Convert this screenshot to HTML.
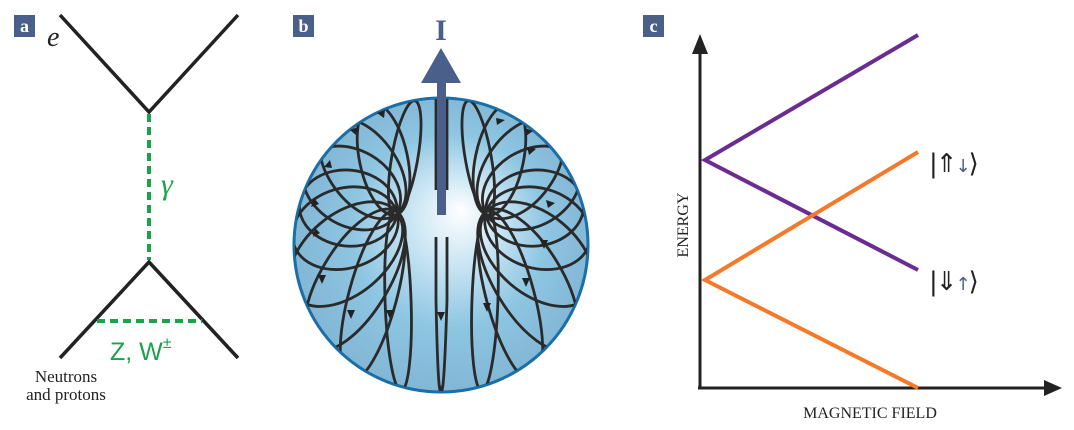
<!DOCTYPE html>
<html><head><meta charset="utf-8"><style>
html,body{margin:0;padding:0;background:#fff;}
svg{display:block;}
</style></head><body>
<svg width="1074" height="430" viewBox="0 0 1074 430" xmlns="http://www.w3.org/2000/svg" font-family="Liberation Serif, serif">
<defs>
<radialGradient id="sg" cx="0.5" cy="0.5" r="0.55" fx="0.57" fy="0.38">
<stop offset="0" stop-color="#ffffff"/>
<stop offset="0.25" stop-color="#cfe8f5"/>
<stop offset="0.6" stop-color="#8ec6e2"/>
<stop offset="1" stop-color="#7fb3d2"/>
</radialGradient>
<clipPath id="cc"><circle cx="441" cy="245" r="146"/></clipPath>
</defs>
<!-- panel a -->
<rect x="14" y="15" width="21" height="22" fill="#4a5f8a"/>
<text x="24.5" y="32" font-size="18" font-weight="bold" fill="#fff" text-anchor="middle">a</text>
<text x="47" y="46" font-size="28" font-style="italic" fill="#222">e</text>
<polyline points="60,15 149,112 238,15" fill="none" stroke="#222" stroke-width="3.5"/>
<line x1="149" y1="114" x2="149" y2="260" stroke="#1aa34a" stroke-width="4" stroke-dasharray="8,5"/>
<text x="161" y="194" font-size="30" font-style="italic" fill="#1aa34a">γ</text>
<polyline points="60,358 149,262 238,358" fill="none" stroke="#222" stroke-width="3.5"/>
<line x1="97" y1="321" x2="202" y2="321" stroke="#1aa34a" stroke-width="4" stroke-dasharray="8,5"/>
<text x="110" y="360" font-size="25" fill="#1aa34a" font-family="Liberation Sans, sans-serif">Z, W<tspan font-size="16" dy="-12">±</tspan></text>
<text x="66" y="382" font-size="17" fill="#222" text-anchor="middle">Neutrons</text>
<text x="66" y="400" font-size="17" fill="#222" text-anchor="middle">and protons</text>
<!-- panel b -->
<rect x="293" y="15" width="21" height="22" fill="#4a5f8a"/>
<text x="303.5" y="32" font-size="18" font-weight="bold" fill="#fff" text-anchor="middle">b</text>
<circle cx="441" cy="245" r="147" fill="url(#sg)" stroke="#1a6fa8" stroke-width="3"/>
<g clip-path="url(#cc)" fill="none" stroke="#2a2a2a" stroke-width="2.8">
<g transform="translate(395,213)">
<ellipse cx="56" cy="0" rx="58" ry="13" transform="rotate(-80)"/>
<ellipse cx="55" cy="0" rx="57" ry="24" transform="rotate(-102)"/>
<ellipse cx="55" cy="0" rx="57" ry="34" transform="rotate(-126)"/>
<ellipse cx="50" cy="0" rx="52" ry="38" transform="rotate(-150)"/>
<ellipse cx="47" cy="0" rx="49" ry="38" transform="rotate(-174)"/>
<ellipse cx="52" cy="0" rx="54" ry="40" transform="rotate(163)"/>
<ellipse cx="64" cy="0" rx="66" ry="40" transform="rotate(140)"/>
<ellipse cx="78" cy="0" rx="80" ry="34" transform="rotate(121)"/>
<ellipse cx="86" cy="0" rx="88" ry="24" transform="rotate(105)"/>
<ellipse cx="88" cy="0" rx="90" ry="13" transform="rotate(88)"/>
</g>
<g transform="translate(488,213)">
<ellipse cx="56" cy="0" rx="58" ry="13" transform="rotate(-100)"/>
<ellipse cx="55" cy="0" rx="57" ry="24" transform="rotate(-78)"/>
<ellipse cx="55" cy="0" rx="57" ry="34" transform="rotate(-54)"/>
<ellipse cx="50" cy="0" rx="52" ry="38" transform="rotate(-30)"/>
<ellipse cx="47" cy="0" rx="49" ry="38" transform="rotate(-6)"/>
<ellipse cx="52" cy="0" rx="54" ry="40" transform="rotate(17)"/>
<ellipse cx="64" cy="0" rx="66" ry="40" transform="rotate(40)"/>
<ellipse cx="78" cy="0" rx="80" ry="34" transform="rotate(59)"/>
<ellipse cx="86" cy="0" rx="88" ry="24" transform="rotate(75)"/>
<ellipse cx="88" cy="0" rx="90" ry="13" transform="rotate(92)"/>
</g>
<path d="M436,190 L436,95 M447,190 L447,95"/>
<path d="M436,237 L436,300 Q438,400 441,390 Q444,400 447,300 L447,237"/>
</g>
<g fill="#222">
<path d="M385,110 l-8,3 l7,5z"/><path d="M358,127 l-8,3 l6,5z"/><path d="M330,160 l-6,7 l8,1z"/>
<path d="M314,198 l-3,9 l8,-3z"/><path d="M315,228 l-2,9 l7,-4z"/><path d="M318,275 l4,9 l4,-9z"/>
<path d="M347,310 l4,9 l4,-9z"/><path d="M386,310 l4,9 l4,-9z"/><path d="M437,312 l4,9 l4,-9z"/>
<path d="M483,303 l4,9 l4,-9z"/><path d="M522,278 l4,9 l4,-9z"/><path d="M540,240 l4,9 l4,-9z"/>
<path d="M546,200 l9,3 l-7,5z"/><path d="M527,147 l9,2 l-7,6z"/><path d="M496,118 l9,2 l-8,5z"/><path d="M525,128 l8,3 l-7,5z"/>
</g>
<rect x="437" y="80" width="9" height="135" fill="#4a5f8a"/>
<path d="M421,83 L441,48 L461,83z" fill="#4a5f8a"/>
<text x="441" y="40" font-size="30" font-weight="bold" fill="#4a5f8a" text-anchor="middle">I</text>
<!-- panel c -->
<rect x="643" y="15" width="21" height="22" fill="#4a5f8a"/>
<text x="653.5" y="32" font-size="18" font-weight="bold" fill="#fff" text-anchor="middle">c</text>
<line x1="700" y1="388" x2="700" y2="50" stroke="#222" stroke-width="3"/>
<path d="M692,54 L700,34 L708,54z" fill="#222"/>
<line x1="698" y1="388" x2="1048" y2="388" stroke="#222" stroke-width="3"/>
<path d="M1044,380 L1062,388 L1044,396z" fill="#222"/>
<polyline points="918,35 705,160 918,270" fill="none" stroke="#6a2c91" stroke-width="4"/>
<polyline points="918,152 705,280 918,388" fill="none" stroke="#f47a2a" stroke-width="4"/>
<text transform="translate(688,225) rotate(-90)" font-size="16" fill="#222" text-anchor="middle">ENERGY</text>
<text x="870" y="418" font-size="16" fill="#222" text-anchor="middle">MAGNETIC FIELD</text>
<g font-family="DejaVu Sans, sans-serif" font-size="26">
<text x="929" y="172" fill="#222" letter-spacing="-2">|⇑<tspan fill="#4a5f8a" font-size="18">↓</tspan>⟩</text>
<text x="929" y="290" fill="#222" letter-spacing="-2">|⇓<tspan fill="#4a5f8a" font-size="18">↑</tspan>⟩</text>
</g>
</svg>
</body></html>
